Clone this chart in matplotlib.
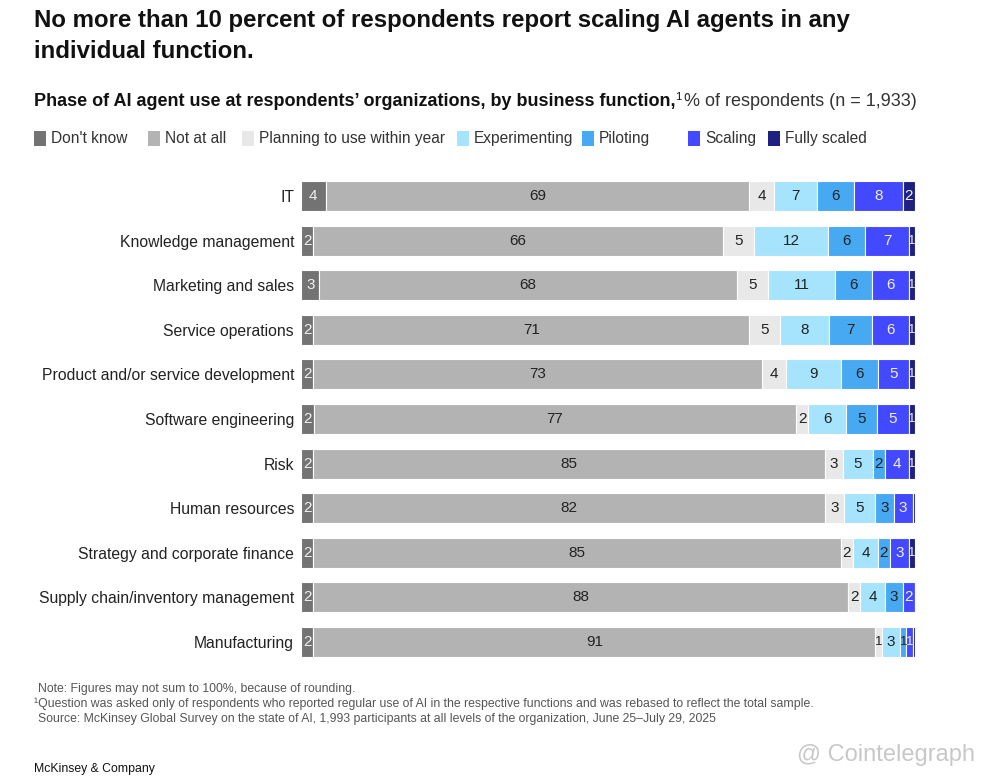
import numpy as np
import matplotlib
matplotlib.use('Agg')
import matplotlib.pyplot as plt

plt.rcParams['font.family'] = ['Liberation Sans', 'DejaVu Sans']

# data
functions = ['IT', 'Knowledge management', 'Marketing and sales', 'Service operations',
             'Product and/or service development', 'Software engineering', 'Risk',
             'Human resources', 'Strategy and corporate finance',
             'Supply chain/inventory management', 'Manufacturing']
phases = ["Don't know", 'Not at all', 'Planning to use within year', 'Experimenting',
          'Piloting', 'Scaling', 'Fully scaled']
dont_know = [4, 2, 3, 2, 2, 2, 2, 2, 2, 2, 2]
not_at_all = [69, 66, 68, 71, 73, 77, 85, 82, 85, 88, 91]
planning = [4, 5, 5, 5, 4, 2, 3, 3, 2, 2, 1]
experimenting = [7, 12, 11, 8, 9, 6, 5, 5, 4, 4, 3]
piloting = [6, 6, 6, 7, 6, 5, 2, 3, 2, 3, 1]
scaling = [8, 7, 6, 6, 5, 5, 4, 3, 3, 2, 1]
fully_scaled = [2, 1, 1, 1, 1, 1, 1, 0.4, 1, 0, 0.4]

colors = ['#737373', '#b3b3b3', '#e8e8e8', '#a6e4fd', '#47a9f1', '#4349fe', '#1e2082']
text_colors = ['#f0f0f0', '#222222', '#222222', '#222222', '#222222', '#f0f0f0', '#f0f0f0']

series = np.array([dont_know, not_at_all, planning, experimenting, piloting, scaling, fully_scaled],
                  dtype=float)
# the chart stretches every row to full width
widths = series / series.sum(axis=0) * 100

W, H = 982, 780
fig = plt.figure(figsize=(W / 100, H / 100), dpi=100)

def px(x, y):
    return x / W, 1 - y / H

fig.text(*px(34, 21), 'No more than 10 percent of respondents report scaling AI agents in any',
         fontsize=17.3, fontweight='bold', va='center', color='#111111')
fig.text(*px(34, 51), 'individual function.', fontsize=17.3, fontweight='bold', va='center',
         color='#111111')

t = fig.text(*px(34, 102), 'Phase of AI agent use at respondents\u2019 organizations, by business function,',
             fontsize=13, fontweight='bold', va='center', color='#111111')
fig.canvas.draw()
bb = t.get_window_extent()
x1 = bb.x1 / W
fig.text(x1, 1 - 97 / H, '1', fontsize=8, va='center', color='#111111')
fig.text(x1 + 9 / W, 1 - 102 / H, '% of respondents (n = 1,933)', fontsize=13, va='center',
         color='#333333')

# legend
leg_x = [34, 148, 242, 457, 582, 688, 768]
for lx, name, c in zip(leg_x, phases, colors):
    fig.patches.append(plt.Rectangle(px(lx, 146), 12 / W, 15 / H, transform=fig.transFigure,
                                     facecolor=c, edgecolor='none'))
    fig.text(*px(lx + 17, 138.5), name, fontsize=11.2, va='center', color='#333333')

ax = fig.add_axes([301 / W, 1 - 664.3 / H, 614 / W, (664.3 - 173.7) / H])
y = np.arange(len(functions))
left = np.zeros(len(functions))
for i, name in enumerate(phases):
    ax.barh(y, widths[i], left=left, height=0.67, color=colors[i], edgecolor='white',
            linewidth=0.8)
    for j in range(len(functions)):
        v = series[i, j]
        if v >= 1:
            fs = 11 if widths[i, j] > 1.6 else 9.5
            ax.text(left[j] + widths[i, j] / 2, y[j], f'{v:.0f}', ha='center', va='center',
                    fontsize=fs, color=text_colors[i])
    left += widths[i]

ax.set_xlim(0, 100)
ax.set_ylim(len(functions) - 0.5, -0.5)
ax.set_yticks(y)
ax.set_yticklabels(functions, fontsize=11.3, color='#222222')
ax.tick_params(axis='y', length=0, pad=5)
ax.set_xticks([])
for s in ax.spines.values():
    s.set_visible(False)

notes = ['Note: Figures may not sum to 100%, because of rounding.',
         '\u00b9Question was asked only of respondents who reported regular use of AI in the respective '
         'functions and was rebased to reflect the total sample.',
         'Source: McKinsey Global Survey on the state of AI, 1,993 participants at all levels of the '
         'organization, June 25\u2013July 29, 2025']
for k, n in enumerate(notes):
    fig.text(*px(38 if k != 1 else 34, 689 + k * 15), n, fontsize=8.8, va='center', color='#555555')

fig.text(*px(34, 769), 'McKinsey & Company', fontsize=8.8, va='center', color='#111111')
fig.text(*px(975, 755), '@ Cointelegraph', fontsize=17, va='center', ha='right', color='#c8c8c8')

fig.savefig('out.png', dpi=100, facecolor='white')
